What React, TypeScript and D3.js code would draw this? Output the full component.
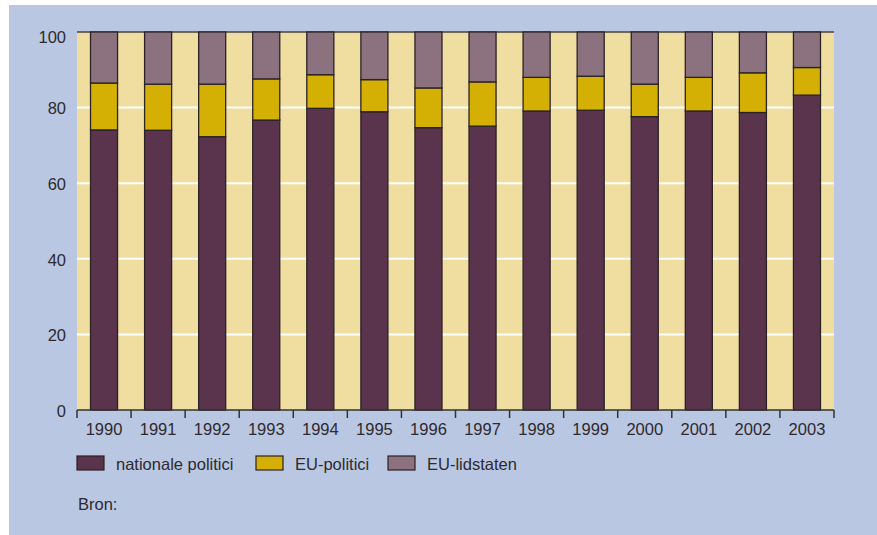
import React, { useEffect, useRef } from 'react'
import * as d3 from 'd3'

const years = ['1990', '1991', '1992', '1993', '1994', '1995', '1996', '1997', '1998', '1999', '2000', '2001', '2002', '2003']
const nationalePolitici = [74.1, 74.0, 72.3, 76.7, 79.8, 78.9, 74.7, 75.1, 79.1, 79.3, 77.6, 79.1, 78.7, 83.3]
const euPolitici = [12.4, 12.2, 13.9, 10.9, 8.9, 8.5, 10.5, 11.7, 8.9, 9.0, 8.6, 8.9, 10.5, 7.3]
const euLidstaten = [13.5, 13.8, 13.8, 12.4, 11.3, 12.6, 14.8, 13.2, 12.0, 11.7, 13.8, 12.0, 10.8, 9.4]
const seriesNames = ['nationale politici', 'EU-politici', 'EU-lidstaten']
const yTicks = [0, 20, 40, 60, 80, 100]

const colors = ['#5a344c', '#d5b004', '#8b727e']
const FONT = '"Liberation Sans", Arial, sans-serif'
const TEXT = '#2e2a2e'
const FS = 16.5

const App = () => {
  const ref = useRef<SVGSVGElement>(null)

  useEffect(() => {
    const svg = d3.select(ref.current)
    svg.selectAll('*').remove()

    const margin = { top: 32, left: 77, right: 43, bottom: 125 }
    const width = 877 - margin.left - margin.right
    const height = 535 - margin.top - margin.bottom

    // blue panel
    svg.append('rect')
      .attr('x', 9).attr('y', 5)
      .attr('width', 868).attr('height', 530)
      .attr('fill', '#b9c7e3')

    const g = svg.append('g')
      .attr('transform', `translate(${margin.left}, ${margin.top})`)

    const x = d3.scaleBand<string>()
      .domain(years)
      .range([0, width])
      .paddingInner(0.5)
      .paddingOuter(0.25)

    const y = d3.scaleLinear()
      .domain([0, 100])
      .range([height, 0])

    g.append('rect')
      .attr('width', width).attr('height', height)
      .attr('fill', '#f0dea0')

    g.selectAll('.grid')
      .data(yTicks.filter((t) => t > 0 && t < 100))
      .enter().append('line')
      .attr('x1', 0).attr('x2', width)
      .attr('y1', (d) => y(d)).attr('y2', (d) => y(d))
      .attr('stroke', '#ffffff').attr('stroke-width', 2)

    g.append('line')
      .attr('x1', 0).attr('x2', width)
      .attr('y1', y(100)).attr('y2', y(100))
      .attr('stroke', '#444').attr('stroke-width', 1.5)

    const table = years.map((yr, i) => ({
      year: yr,
      n: nationalePolitici[i],
      e: euPolitici[i],
      l: euLidstaten[i],
    }))
    const stacked = d3.stack<any>().keys(['n', 'e', 'l'])(table)

    stacked.forEach((layer, k) => {
      g.selectAll(`.bar-${k}`)
        .data(layer)
        .enter().append('rect')
        .attr('x', (d: any) => x(d.data.year) as number)
        .attr('y', (d) => y(d[1]))
        .attr('width', x.bandwidth())
        .attr('height', (d) => y(d[0]) - y(d[1]))
        .attr('fill', colors[k])
        .attr('stroke', '#2a2224')
        .attr('stroke-width', 1.3)
    })

    const xAxis = d3.axisBottom(x).tickSize(0).tickPadding(13)
    const xg = g.append('g')
      .attr('transform', `translate(0, ${height})`)
      .call(xAxis)
    xg.select('.domain').remove()
    xg.selectAll('text')
      .attr('font-family', FONT).attr('font-size', FS).attr('fill', TEXT)

    g.append('line')
      .attr('x1', 0).attr('x2', width)
      .attr('y1', height).attr('y2', height)
      .attr('stroke', '#333').attr('stroke-width', 1.5)

    const step = x.step()
    g.selectAll('.xtick')
      .data(d3.range(years.length + 1))
      .enter().append('line')
      .attr('x1', (i) => i * step).attr('x2', (i) => i * step)
      .attr('y1', height).attr('y2', height + 8)
      .attr('stroke', '#333').attr('stroke-width', 1.5)

    const yAxis = d3.axisLeft(y).tickValues(yTicks).tickSize(0).tickPadding(11)
    const yg = g.append('g').call(yAxis)
    yg.select('.domain').remove()
    yg.selectAll('text')
      .attr('font-family', FONT).attr('font-size', FS).attr('fill', TEXT)
      .attr('dy', (d: any) => (d === 100 ? '0.65em' : '0.38em'))

    // legend
    const legendX = [77, 256, 388]
    const lg = svg.append('g')
    seriesNames.forEach((name, k) => {
      lg.append('rect')
        .attr('x', legendX[k]).attr('y', 456)
        .attr('width', 27).attr('height', 14)
        .attr('fill', colors[k])
        .attr('stroke', '#2a2224').attr('stroke-width', 1.2)
      lg.append('text')
        .attr('x', legendX[k] + 39).attr('y', 470)
        .attr('font-family', FONT).attr('font-size', FS).attr('fill', TEXT)
        .text(name)
    })

    svg.append('text')
      .attr('x', 78).attr('y', 510)
      .attr('font-family', FONT).attr('font-size', FS).attr('fill', TEXT)
      .text('Bron:')
  }, [])

  return (
    <svg
      ref={ref}
      width={877}
      height={535}
      style={{ position: 'absolute', left: 0, top: 0, display: 'block' }}
    />
  )
}

export default App
